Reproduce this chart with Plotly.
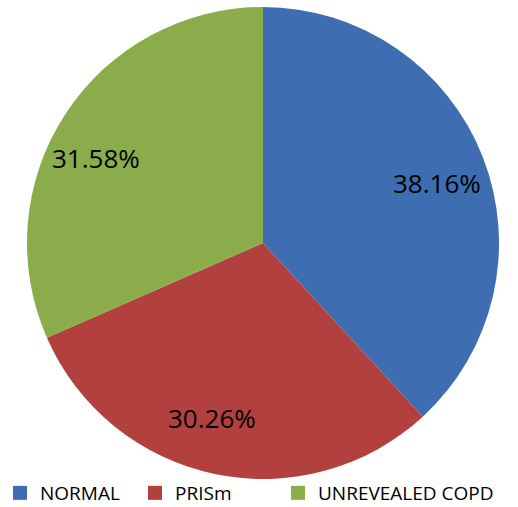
import plotly.graph_objects as go

categories = ["NORMAL", "PRISm", "UNREVEALED COPD"]
counts = [29, 23, 24]
colors = ["#3E6EB1", "#B1403E", "#8BAC4A"]
# label anchor points (pixels in the 518x507 canvas)
label_px = [(437, 183), (212, 418), (96, 158)]
legend_widths = [90, 98, 178]

W, H = 518, 507
cx, cy, r = 263, 243, 236
fig = go.Figure(go.Pie(
    labels=categories,
    values=counts,
    sort=False,
    direction="clockwise",
    rotation=0,
    marker=dict(colors=colors, line=dict(width=0)),
    textinfo="none",
    showlegend=False,
    domain=dict(x=[(cx - (W - cx)) / W, 1], y=[1 - (cy + r) / H, 1 - (cy - r) / H]),
    hoverinfo="label+percent",
))
# legend entries (one per category, same colours as the slices)
for name, col, lw in zip(categories, colors, legend_widths):
    fig.add_trace(go.Scatter(x=[None], y=[None], mode="markers", name=name,
                             marker=dict(symbol="square", size=14, color=col),
                             legendwidth=lw, showlegend=True, hoverinfo="skip"))
total = sum(counts)
for c, (px, py) in zip(counts, label_px):
    fig.add_annotation(x=px / W, y=1 - py / H, xref="paper", yref="paper",
                       text=f"{100 * c / total:.2f}%", showarrow=False,
                       font=dict(family="Open Sans", size=26, color="black"),
                       xanchor="center", yanchor="middle")
fig.update_layout(
    width=W, height=H,
    margin=dict(l=0, r=0, t=0, b=0, autoexpand=False),
    paper_bgcolor="white",
    plot_bgcolor="rgba(0,0,0,0)",
    xaxis=dict(visible=False),
    yaxis=dict(visible=False),
    showlegend=True,
    legend=dict(orientation="h", x=0, xanchor="left", y=-5 / H, yanchor="bottom",
                bgcolor="rgba(0,0,0,0)",
                font=dict(family="Open Sans", size=19, color="black")),
)
fig.write_html("out.html")
